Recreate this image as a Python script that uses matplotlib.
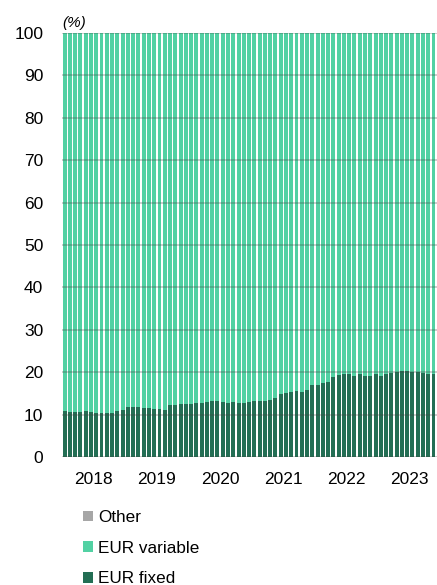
import numpy as np
import matplotlib
matplotlib.use("Agg")
import matplotlib.pyplot as plt

plt.rcParams['font.family'] = ['Liberation Sans', 'DejaVu Sans']

# Monthly shares (%), Jan 2018 - Dec 2023
years = ['2018', '2019', '2020', '2021', '2022', '2023']
eur_fixed = [
    10.8, 10.7, 10.5, 10.5, 10.8, 10.6, 10.4, 10.4, 10.4, 10.4, 10.8, 11.1,
    11.7, 11.7, 11.7, 11.6, 11.6, 11.3, 11.3, 11.2, 12.2, 12.2, 12.5, 12.5,
    12.5, 12.7, 12.7, 13.0, 13.1, 13.2, 13.0, 12.7, 13.0, 12.7, 12.7, 13.0,
    13.2, 13.2, 13.2, 13.4, 13.8, 14.8, 15.2, 15.3, 15.6, 15.4, 15.8, 17.0,
    17.0, 17.4, 17.8, 18.9, 19.3, 19.6, 19.6, 19.2, 19.6, 19.1, 19.1, 19.6,
    19.1, 19.6, 19.9, 20.1, 20.3, 20.3, 20.1, 20.1, 19.9, 19.6, 19.5, 19.4,
]
other = [0.0] * len(eur_fixed)
eur_variable = [100.0 - f - o for f, o in zip(eur_fixed, other)]

c_fixed = '#236e54'
c_var = '#52d1a3'
c_other = '#a6a6a6'

fig = plt.figure(figsize=(4.37, 5.85), dpi=100)
# axes runs slightly past the right edge of the figure
ax = fig.add_axes([62 / 437, 128 / 585, 379.4 / 437, 424 / 585])

x = np.arange(len(eur_fixed))
w = 0.75
b1 = ax.bar(x, eur_fixed, width=w, color=c_fixed, linewidth=0, label='EUR fixed', zorder=2)
b2 = ax.bar(x, eur_variable, width=w, bottom=eur_fixed, color=c_var, linewidth=0,
            label='EUR variable', zorder=2)
bottom_other = [f + v for f, v in zip(eur_fixed, eur_variable)]
b3 = ax.bar(x, other, width=w, bottom=bottom_other, color=c_other, linewidth=0,
            label='Other', zorder=2)

ax.set_xlim(-0.5, len(eur_fixed) - 0.5)
ax.set_ylim(0, 100)
ax.set_yticks(np.arange(0, 101, 10))
ax.set_xticks([12 * i + 5.5 for i in range(len(years))])
ax.set_xticklabels(years)
ax.tick_params(axis='both', length=0, labelsize=12.5, colors='#000000')
ax.tick_params(axis='y', pad=13.5)
ax.tick_params(axis='x', pad=11)

for yv in np.arange(0, 101, 10):
    ax.axhline(yv, color='#404040', alpha=0.33, linewidth=1.1, zorder=3)

for s in ax.spines.values():
    s.set_visible(False)

fig.text(62 / 437, 1 - 27 / 585, '(%)', fontsize=11, style='italic', ha='left', va='baseline')

leg = fig.legend(handles=[b3, b2, b1], labels=['Other', 'EUR variable', 'EUR fixed'],
                 loc='upper left', bbox_to_anchor=(83 / 437, 1 - 510 / 585),
                 frameon=False, fontsize=12.3, handlelength=0.6, handleheight=0.6,
                 handletextpad=0.3, labelspacing=0.92, borderaxespad=0, borderpad=0)

fig.savefig('out.png', dpi=100)
